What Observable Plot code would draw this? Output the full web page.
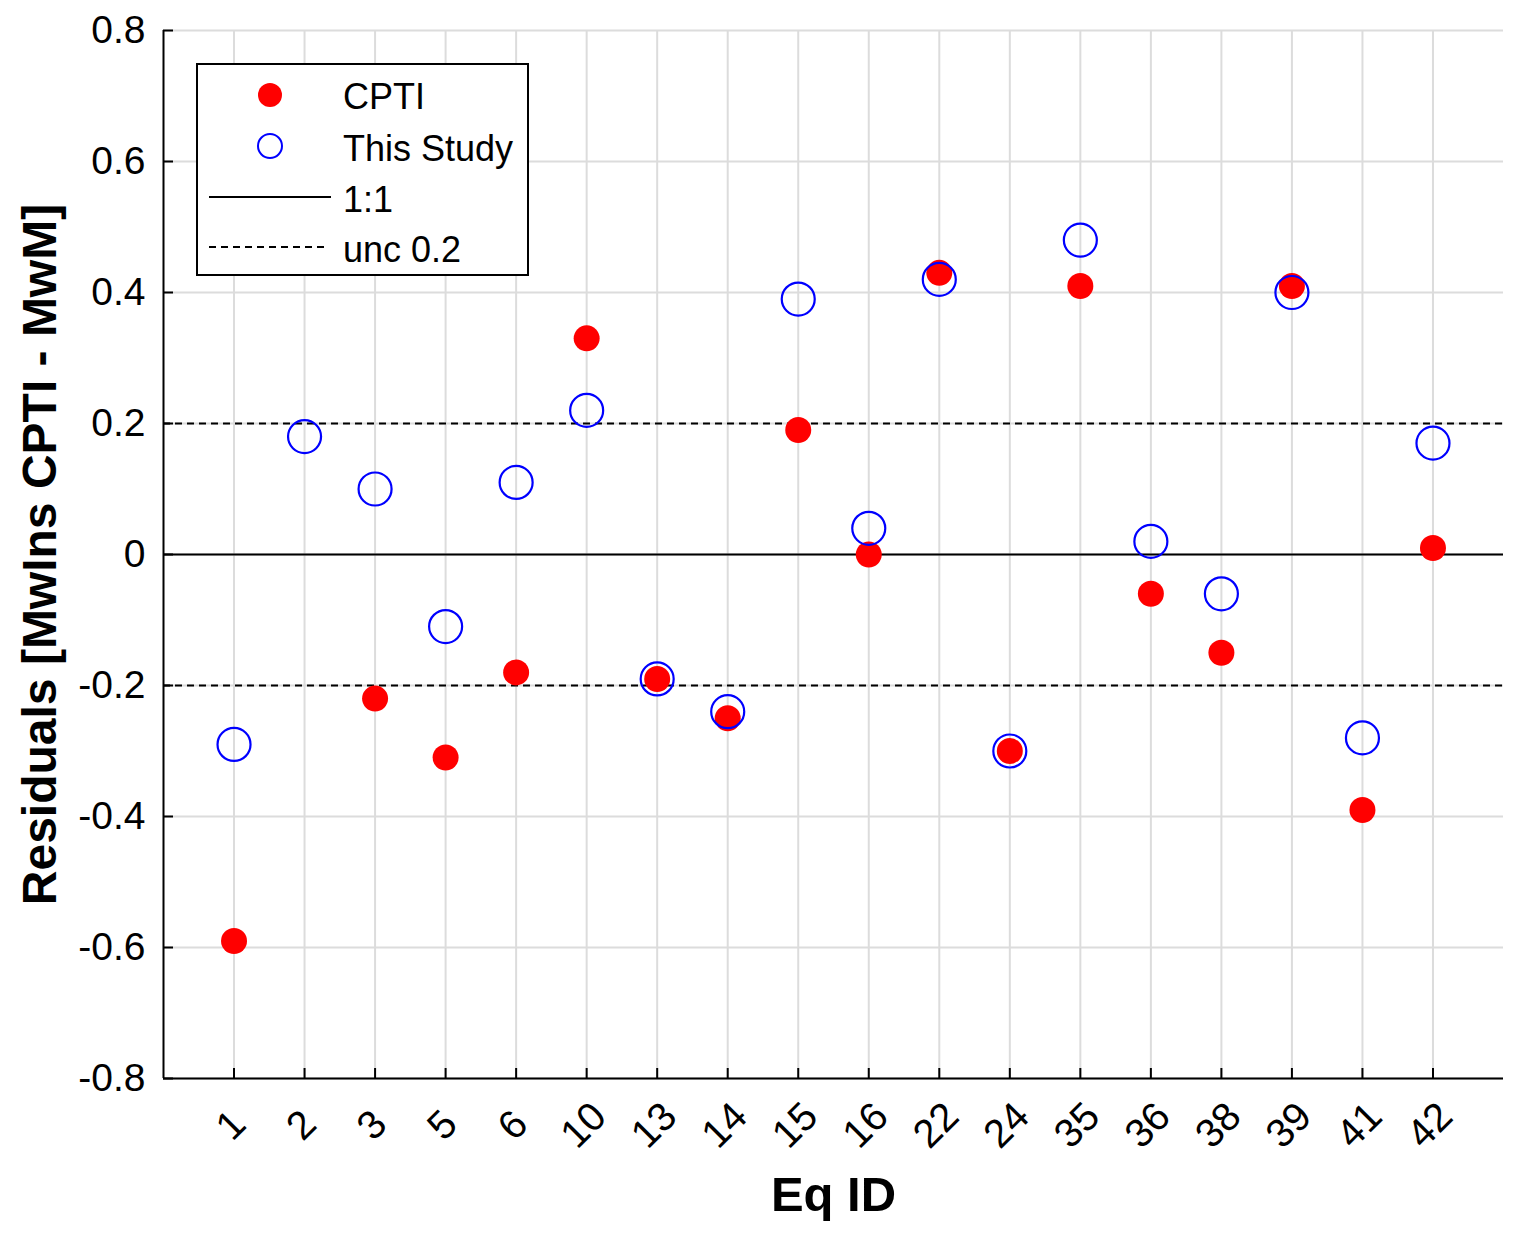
<!DOCTYPE html>
<html>
<head>
<meta charset="utf-8">
<script src="https://cdn.jsdelivr.net/npm/d3@7"></script>
<script src="https://cdn.jsdelivr.net/npm/@observablehq/plot@0.6"></script>
<style>
  body { margin: 0; background: #fff; font-family: "Liberation Sans", Arial, sans-serif; }
  #wrap { position: relative; width: 1522px; height: 1247px; }
  #legend {
    position: absolute; left: 196px; top: 63px; width: 333px; height: 213px;
    border: 2px solid #000; background: #fff; box-sizing: border-box;
  }
</style>
</head>
<body>
<div id="wrap">
  <div id="chart"></div>
  <div id="legend"></div>
</div>
<script>
// datos
const eqIds = [1, 2, 3, 5, 6, 10, 13, 14, 15, 16, 22, 24, 35, 36, 38, 39, 41, 42];
const cpti = [-0.59, null, -0.22, -0.31, -0.18, 0.33, -0.19, -0.25, 0.19, 0.00, 0.43, -0.30, 0.41, -0.06, -0.15, 0.41, -0.39, 0.01];
const thisStudy = [-0.29, 0.18, 0.10, -0.11, 0.11, 0.22, -0.19, -0.24, 0.39, 0.04, 0.42, -0.30, 0.48, 0.02, -0.06, 0.40, -0.28, 0.17];
const yTicks = [-0.8, -0.6, -0.4, -0.2, 0, 0.2, 0.4, 0.6, 0.8];
const uncLevels = [-0.2, 0.2];

const pos = eqIds.map((d, i) => i + 1);
const cptiData = eqIds.map((id, i) => ({pos: i + 1, v: cpti[i]})).filter(d => d.v != null);
const studyData = eqIds.map((id, i) => ({pos: i + 1, v: thisStudy[i]}));
const fmtY = d => d === 0 ? "0" : d.toFixed(1).replace("\u2212", "-");

let chart = Plot.plot({
  width: 1522,
  height: 1247,
  marginLeft: 163,
  marginRight: 19,
  marginTop: 30,
  marginBottom: 169,
  style: {fontFamily: "'Liberation Sans', Arial, sans-serif", background: "#fff", color: "#000"},
  x: {domain: [0, pos.length + 1], axis: null},
  y: {domain: [-0.8, 0.8], axis: null},
  marks: [
    Plot.gridX(pos, {stroke: "#dcdcdc", strokeOpacity: 1, strokeWidth: 2}),
    Plot.gridY(yTicks, {stroke: "#dcdcdc", strokeOpacity: 1, strokeWidth: 2}),
    Plot.ruleY([0], {stroke: "#000", strokeWidth: 2}),
    Plot.ruleY(uncLevels, {stroke: "#000", strokeWidth: 2, strokeDasharray: "7,5"}),
    // ejes
    Plot.ruleX([0], {stroke: "#000", strokeWidth: 2}),
    Plot.ruleY([-0.8], {stroke: "#000", strokeWidth: 2}),
    Plot.axisX(pos, {tickSize: -10, tickFormat: () => "", strokeWidth: 2, label: null}),
    Plot.axisY(yTicks, {tickSize: -10, tickFormat: () => "", strokeWidth: 2, label: null}),
    Plot.axisY(yTicks, {tickSize: 0, tickPadding: 18, tickFormat: fmtY, fontSize: 39, label: null}),
    Plot.text(pos, {
      x: d => d, frameAnchor: "bottom", dy: 56, dx: 6,
      text: d => String(eqIds[d - 1]), rotate: -45, fontSize: 40, textAnchor: "middle"
    }),
    Plot.text(["Eq ID"], {frameAnchor: "bottom", dy: 132, fontSize: 49, fontWeight: "bold"}),
    Plot.text(["Residuals [MwIns CPTI - MwM]"], {
      frameAnchor: "left", dx: -123, rotate: -90, fontSize: 48, fontWeight: "bold", textAnchor: "middle"
    }),
    // puntos
    Plot.dot(cptiData, {x: "pos", y: "v", r: 13, fill: "red", stroke: "none"}),
    Plot.dot(studyData, {x: "pos", y: "v", r: 16.5, fill: "none", stroke: "blue", strokeWidth: 2.2})
  ]
});

d3.select('#chart').append(() => chart);

// leyenda
const leg = d3.select('#legend').append('svg').attr('width', 329).attr('height', 209)
  .style('font-family', "'Liberation Sans', Arial, sans-serif").style('font-size', '36px');
leg.append('circle').attr('cx', 72).attr('cy', 30).attr('r', 12).attr('fill', 'red');
leg.append('text').attr('x', 145).attr('y', 44).text('CPTI');
leg.append('circle').attr('cx', 72).attr('cy', 81).attr('r', 12).attr('fill', 'none').attr('stroke', 'blue').attr('stroke-width', 2);
leg.append('text').attr('x', 145).attr('y', 96).text('This Study');
leg.append('line').attr('x1', 11).attr('x2', 133).attr('y1', 132).attr('y2', 132).attr('stroke', '#000').attr('stroke-width', 2);
leg.append('text').attr('x', 145).attr('y', 147).text('1:1');
leg.append('line').attr('x1', 11).attr('x2', 130).attr('y1', 182).attr('y2', 182).attr('stroke', '#000').attr('stroke-width', 2).attr('stroke-dasharray', '7,5');
leg.append('text').attr('x', 145).attr('y', 197).text('unc 0.2');
</script>
</body>
</html>
